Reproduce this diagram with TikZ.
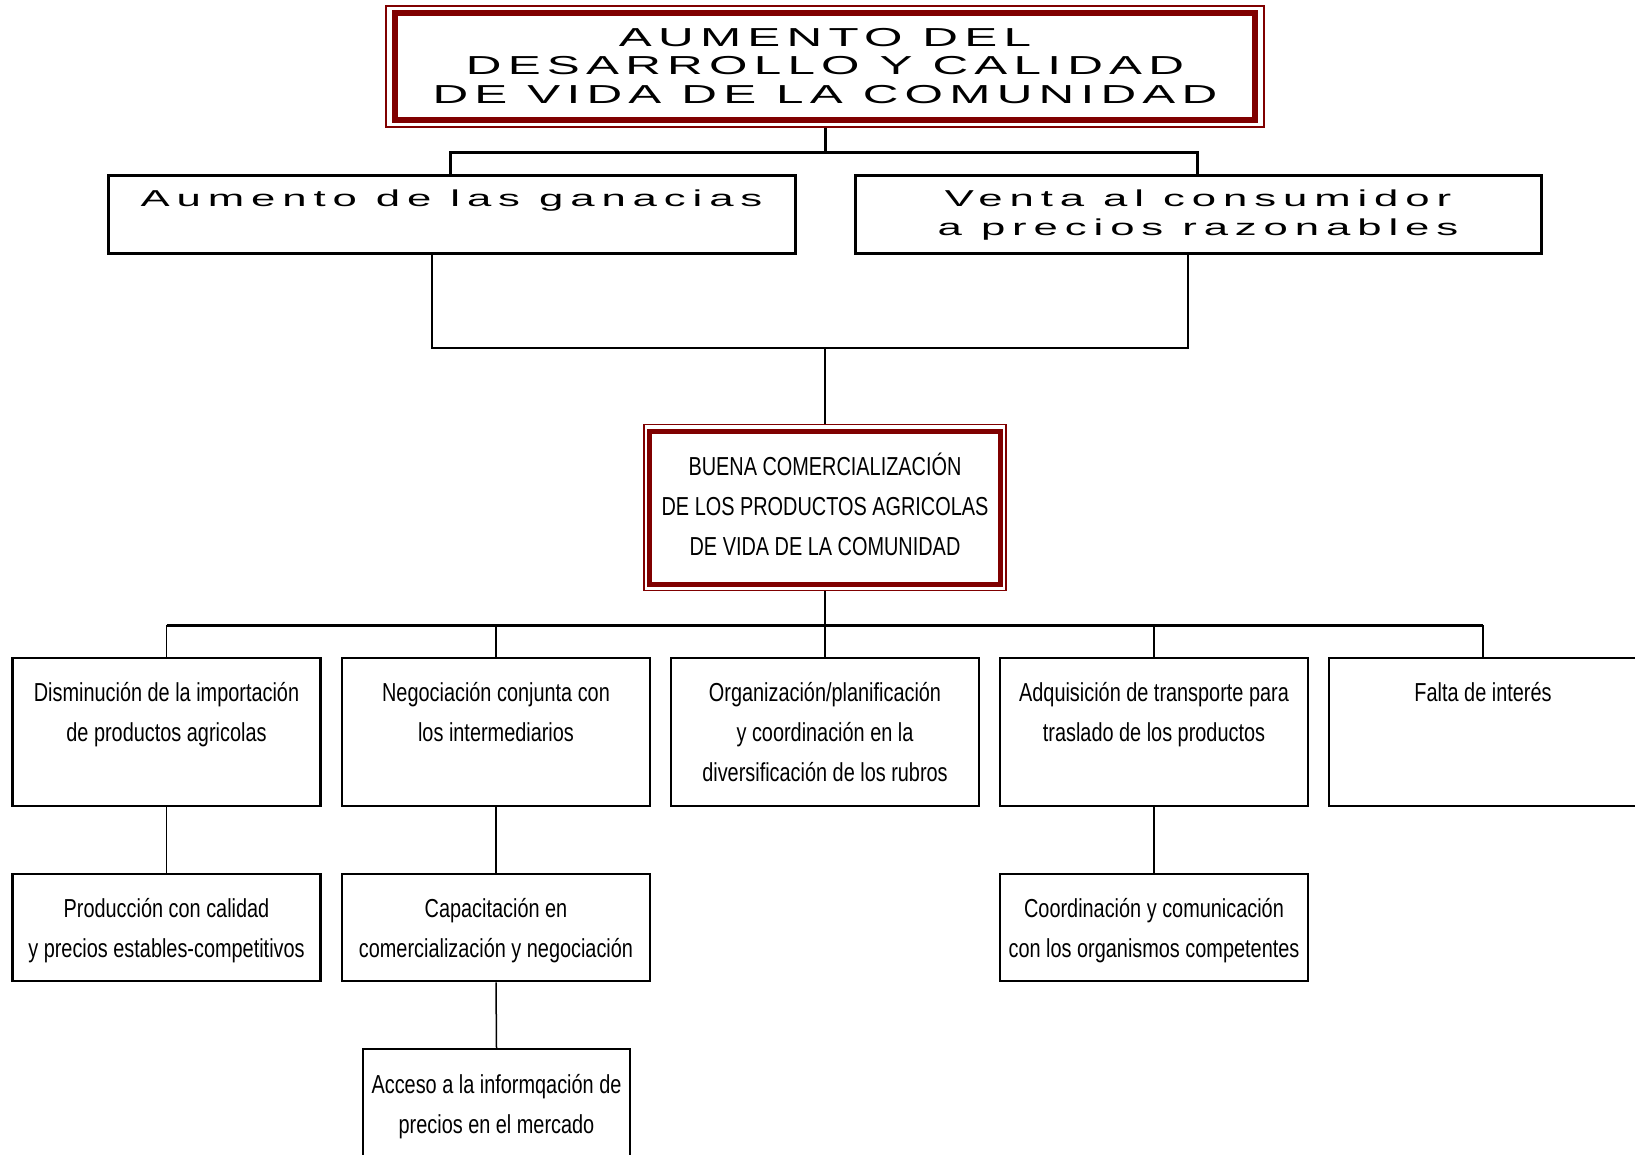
\documentclass[tikz,border=0pt]{standalone}
\usepackage{fontspec}
\setmainfont{Liberation Sans}
\newfontfamily\narrowfont[FakeStretch=0.765]{Liberation Sans}
\newfontfamily\widefont[FakeStretch=1.9,LetterSpace=30]{Liberation Sans}
\newfontfamily\widefonttop[FakeStretch=1.9,LetterSpace=24]{Liberation Sans}
\definecolor{maroon}{RGB}{128,0,0}
\newcommand\fstrut{\rule{0pt}{24pt}}
\tikzset{
  rowbox/.style={draw=black, line width=2.5pt, minimum width=308pt, inner sep=0pt},
  lvbox/.style={draw=black, line width=3pt, minimum height=78pt, inner sep=0pt},
  thickred/.style={draw=maroon, line width=6pt, inner sep=0pt, fill=white},
  thinred/.style={draw=maroon, line width=1.5pt, inner sep=0pt},
  ntext/.style={anchor=north, inner sep=0pt, align=center, font=\narrowfont\fontsize{26pt}{40pt}\selectfont},
  wtext/.style={anchor=north, inner sep=0pt, align=center, font=\widefonttop\fontsize{26pt}{28.6pt}\selectfont},
  wtextb/.style={anchor=north, inner sep=0pt, align=center, font=\widefont\fontsize{23pt}{29pt}\selectfont},
  hline/.style={draw=black, line width=3pt},
  vline/.style={draw=black, line width=1.5pt},
}
\begin{document}
\begin{tikzpicture}[x=1pt,y=-1pt]
\fill[white] (0,0) rectangle (1635,1154);
\useasboundingbox (0,0) rectangle (1635,1154);

% top box
\node[thinred, minimum width=878pt, minimum height=121pt] (topout) at (825,66.5) {};
\node[thickred, minimum width=860pt, minimum height=107pt] (top) at (825,66.5) {};
\node[wtext] (toptext) at ([yshift=-12pt]top.north) {\fstrut AUMENTO DEL\\DESARROLLO Y CALIDAD\\DE VIDA DE LA COMUNIDAD};

% level 2
\node[lvbox, minimum width=687pt] (a) at (451.5,214) {};
\node[wtextb] (atext) at ([yshift=-9pt]a.north) {\fstrut Aumento de las ganacias};
\node[lvbox, minimum width=686pt] (b) at (1198,214) {};
\node[wtextb] (btext) at ([yshift=-9pt]b.north) {\fstrut Venta al consumidor\\a precios razonables};

\coordinate (j1) at (825,152);
\draw[hline] (topout.south) -- (j1);
\draw[hline] ([xshift=-1.5pt]a.north) |- (j1) -| ([xshift=-1pt]b.north);

% middle box
\node[thinred, minimum width=362pt, minimum height=166pt] (mout) at (825,507.5) {};
\node[thickred, line width=5pt, minimum width=351pt, minimum height=153pt] (mid) at (825,507.5) {};
\node[ntext] (midtext) at ([yshift=-22.3pt]mid.north) {\fstrut BUENA COMERCIALIZACIÓN\\DE LOS PRODUCTOS AGRICOLAS\\DE VIDA DE LA COMUNIDAD};

\coordinate (j2) at (825,348);
\draw[vline] ([xshift=-19.5pt]a.south) |- (j2) -| ([xshift=-10pt]b.south);
\draw[vline] (j2) -- (mout.north);

% row 3
\node[rowbox, minimum height=148pt] (r1) at (166.5,732) {};
\node[rowbox, minimum height=148pt] (r2) at (496,732) {};
\node[rowbox, minimum height=148pt] (r3) at (825,732) {};
\node[rowbox, minimum height=148pt] (r4) at (1154,732) {};
\node[rowbox, minimum height=148pt] (r5) at (1483,732) {};
\node[ntext] (t1) at ([yshift=-20.6pt]r1.north) {\fstrut Disminución de la importación\\de productos agricolas};
\node[ntext] (t2) at ([yshift=-20.6pt]r2.north) {\fstrut Negociación conjunta con\\los intermediarios};
\node[ntext] (t3) at ([yshift=-20.6pt]r3.north) {\fstrut Organización/planificación\\y coordinación en la\\diversificación de los rubros};
\node[ntext] (t4) at ([yshift=-20.6pt]r4.north) {\fstrut Adquisición de transporte para\\traslado de los productos};
\node[ntext] (t5) at ([yshift=-20.6pt]r5.north) {\fstrut Falta de interés};

\coordinate (j3) at (825,625);
\draw[vline] (mout.south) -- (j3);
\draw[hline] (r1.north |- j3) -- (r5.north |- j3);
\foreach \r in {r1,r2,r3,r4,r5} { \draw[vline] (\r.north |- j3) -- (\r.north); }

% row 4
\node[rowbox, minimum height=107pt] (s1) at (166.5,927.5) {};
\node[rowbox, minimum height=107pt] (s2) at (496,927.5) {};
\node[rowbox, minimum height=107pt] (s4) at (1154,927.5) {};
\node[ntext] (v1) at ([yshift=-21pt]s1.north) {\fstrut Producción con calidad\\y precios estables-competitivos};
\node[ntext] (v2) at ([yshift=-21pt]s2.north) {\fstrut Capacitación en\\comercialización y negociación};
\node[ntext] (v4) at ([yshift=-21pt]s4.north) {\fstrut Coordinación y comunicación\\con los organismos competentes};
\draw[vline] (r1.south) -- (s1.north);
\draw[vline] (r2.south) -- (s2.north);
\draw[vline] (r4.south) -- (s4.north);

% row 5
\node[rowbox, minimum width=267pt, minimum height=121pt] (u) at (496.5,1109.5) {};
\node[ntext] (w) at ([yshift=-21.7pt]u.north) {\fstrut Acceso a la informqación de\\precios en el mercado};
\draw[vline] (s2.south) -- (u.north);
\end{tikzpicture}
\end{document}
